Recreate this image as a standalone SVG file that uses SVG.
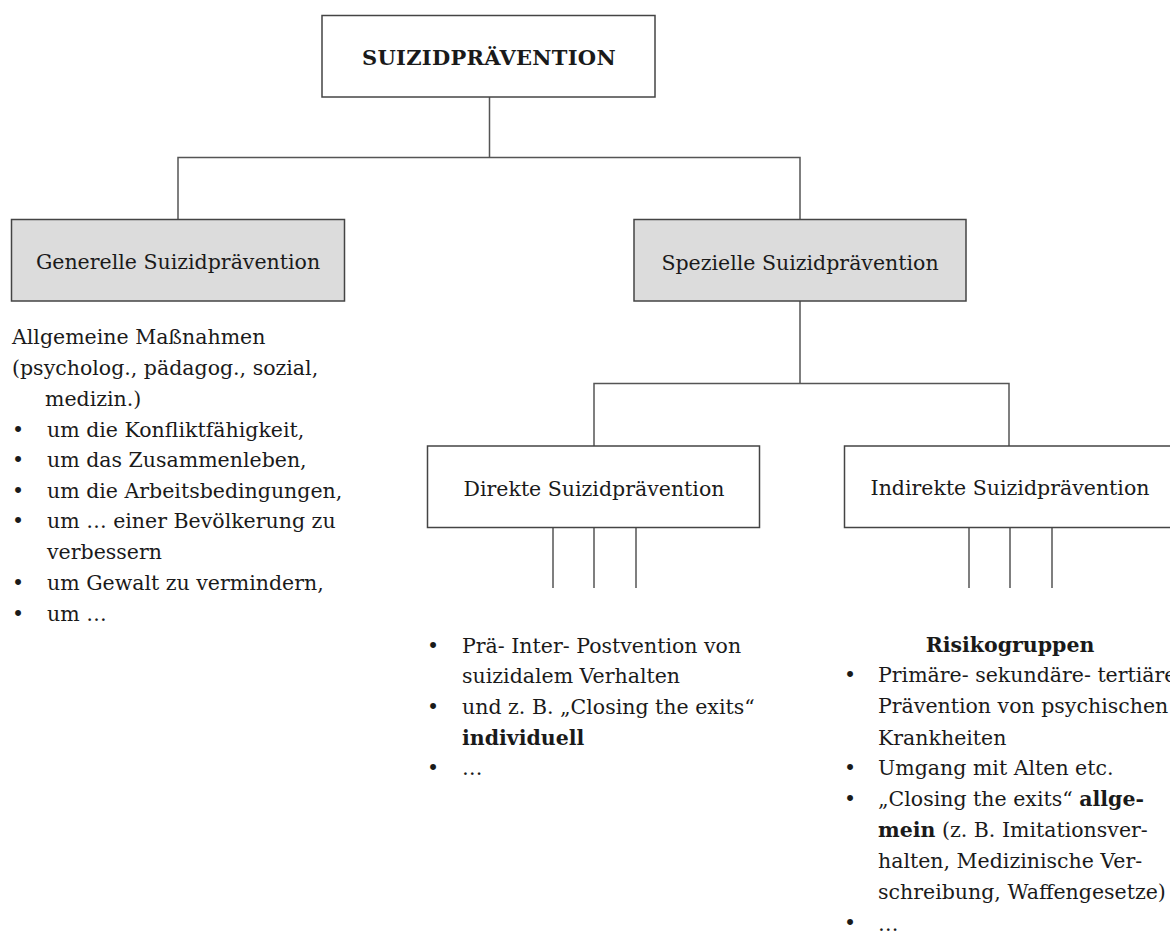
<svg xmlns="http://www.w3.org/2000/svg" width="1170" height="931" viewBox="0 0 1170 931">
<style>
text{font-family:"DejaVu Serif","Liberation Serif",serif;font-size:20.5px;fill:#1a1a1a}
.b{font-weight:bold}
.c{text-anchor:middle}
.t{font-size:21px;letter-spacing:0.3px}
.box{fill:#fff;stroke:#444;stroke-width:1.5}
.grey{fill:#dcdcdc}
.ln{stroke:#555;stroke-width:1.5;fill:none}
</style>
<rect width="1170" height="931" fill="#fff"/>
<g id="connectors">
<path class="ln" d="M489.5 97V157.5M178 219V157.5H800V219"/>
<path class="ln" d="M800 301V383.5M594 446V383.5H1009V446"/>
<path class="ln" d="M553 527V588M594 527V588M636 527V588"/>
<path class="ln" d="M969 527V588M1010 527V588M1052 527V588"/>
</g>
<g id="n-root">
<rect class="box" x="322" y="15.5" width="333" height="81.5"/>
<text class="b c t" x="489" y="65">SUIZIDPRÄVENTION</text>
</g>
<g id="n-generell">
<rect class="box grey" x="11.5" y="219.5" width="333" height="81.5"/>
<text class="c" x="178" y="269">Generelle Suizidprävention</text>
</g>
<g id="n-speziell">
<rect class="box grey" x="634" y="219.5" width="332" height="81.5"/>
<text class="c" x="800" y="270">Spezielle Suizidprävention</text>
</g>
<g id="n-direkt">
<rect class="box" x="427.5" y="446" width="332" height="81.5"/>
<text class="c" x="594" y="496">Direkte Suizidprävention</text>
</g>
<g id="n-indirekt">
<rect class="box" x="844.5" y="446" width="332" height="81.5"/>
<text class="c" x="1010" y="495">Indirekte Suizidprävention</text>
</g>
<g id="t-generell">
<text x="12" y="344">Allgemeine Maßnahmen</text>
<text x="12" y="375">(psycholog., pädagog., sozial,</text>
<text x="45" y="406">medizin.)</text>
<text class="c" x="18" y="437">•</text><text x="47" y="437">um die Konfliktfähigkeit,</text>
<text class="c" x="18" y="467">•</text><text x="47" y="467">um das Zusammenleben,</text>
<text class="c" x="18" y="498">•</text><text x="47" y="498">um die Arbeitsbedingungen,</text>
<text class="c" x="18" y="528">•</text><text x="47" y="528">um … einer Bevölkerung zu</text>
<text x="47" y="559">verbessern</text>
<text class="c" x="18" y="590">•</text><text x="47" y="590">um Gewalt zu vermindern,</text>
<text class="c" x="18" y="621">•</text><text x="47" y="621">um …</text>
</g>
<g id="t-direkt">
<text class="c" x="433" y="653">•</text><text x="462" y="653">Prä- Inter- Postvention von</text>
<text x="462" y="683">suizidalem Verhalten</text>
<text class="c" x="433" y="714">•</text><text x="462" y="714">und z. B. „Closing the exits“</text>
<text class="b" x="462" y="745">individuell</text>
<text class="c" x="433" y="775">•</text><text x="462" y="775">…</text>
</g>
<g id="t-indirekt">
<text class="b c" x="1010" y="652">Risikogruppen</text>
<text class="c" x="850" y="682">•</text><text x="878" y="682">Primäre- sekundäre- tertiäre</text>
<text x="878" y="713">Prävention von psychischen</text>
<text x="878" y="745">Krankheiten</text>
<text class="c" x="850" y="775">•</text><text x="878" y="775">Umgang mit Alten etc.</text>
<text class="c" x="850" y="806">•</text><text x="878" y="806">„Closing the exits“ <tspan class="b">allge-</tspan></text>
<text x="878" y="837"><tspan class="b">mein</tspan> (z. B. Imitationsver-</text>
<text x="878" y="868">halten, Medizinische Ver-</text>
<text x="878" y="899">schreibung, Waffengesetze)</text>
<text class="c" x="850" y="930">•</text><text x="878" y="931">…</text>
</g>
</svg>
